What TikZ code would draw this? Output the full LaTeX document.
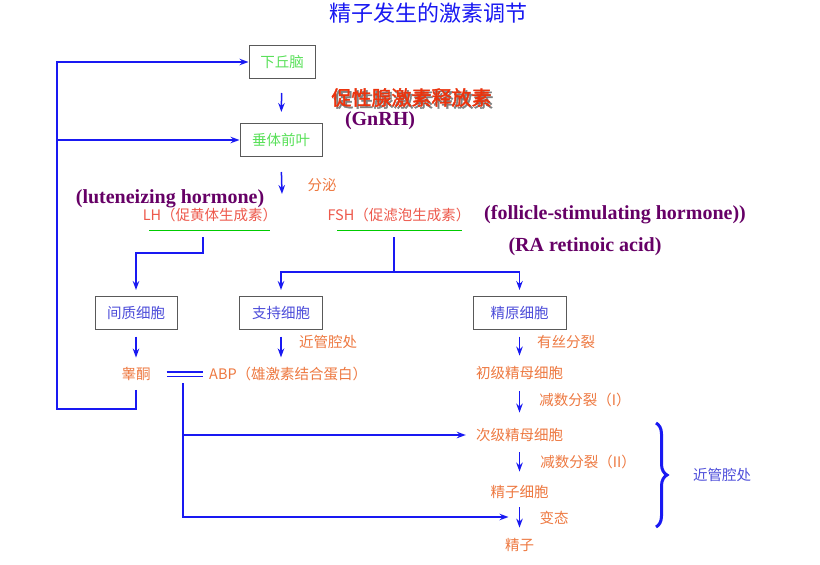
\documentclass[tikz,border=0pt]{standalone}
\usepackage{fontspec}
\setmainfont{Liberation Serif}
\newfontfamily\cjk{Noto Sans CJK SC}[AutoFakeBold=2]
\usetikzlibrary{arrows.meta,decorations.pathreplacing}
\definecolor{lineblue}{rgb}{0.1,0.1,0.95}
\definecolor{boxtext}{rgb}{0.3,0.3,0.85}
\definecolor{organ}{rgb}{0.35,0.88,0.35}
\definecolor{stage}{rgb}{0.93,0.47,0.25}
\definecolor{hormone}{rgb}{0.93,0.35,0.3}
\definecolor{plum}{rgb}{0.4,0.0,0.4}
\definecolor{gnrh}{rgb}{0.92,0.2,0.05}

\begin{document}
\begin{tikzpicture}[x=1pt, y=-1pt, >=Stealth,
    conn/.style={draw=lineblue, line width=1.5pt},
    arr/.style={conn, -{Stealth[length=9pt,width=6.5pt]}},
    cell/.style={draw=black!65, line width=1pt, minimum height=33pt,
      font=\cjk\fontsize{14.5}{16}\selectfont},
    txt/.style={inner sep=0pt, font=\cjk\fontsize{14.5}{16}\selectfont},
    eng/.style={inner sep=0pt, text=plum, font=\bfseries\fontsize{20}{22}\selectfont},
    uline/.style={draw=green!80!black, line width=1pt}]
    \useasboundingbox (0,0) rectangle (820,565);

    % Title
    \node[txt, text=lineblue, font=\cjk\fontsize{22}{24}\selectfont] (title) at (428,13) {精子发生的激素调节};

    % Hypothalamus and pituitary
    \node[cell, text=organ, minimum width=66pt] (hypo) at (282,62) {下丘脑};
    \node[cell, text=organ, minimum width=82pt] (pit) at (281,140) {垂体前叶};
    \draw[arr, shorten <=14pt, shorten >=11pt] (hypo) -- (pit);

    % GnRH label (with shadow)
    \node[txt, text=black!50, font=\cjk\bfseries\fontsize{20}{22}\selectfont] (gnrhshadow) at (413.5,99.5) {促性腺激素释放素};
    \node[txt, text=gnrh, font=\cjk\bfseries\fontsize{20}{22}\selectfont] (gnrh) at (411.5,97.5) {促性腺激素释放素};
    \node[eng] (gnrhabbr) at (380,121) {(GnRH)};

    % Secretion
    \coordinate (secr) at (282,194);
    \draw[arr, shorten <=15pt] (pit.south) -- (secr);
    \node[txt, text=stage] (secrlbl) at (322,185) {分泌};

    % LH and FSH
    \node[eng] (lhname) at (170,199) {(luteneizing hormone)};
    \node[txt, text=hormone] (lh) at (210,215) {LH（促黄体生成素）};
    \node[txt, text=hormone] (fsh) at (399,215) {FSH（促滤泡生成素）};
    \node[eng] (fshname) at (615,215) {(follicle-stimulating hormone))};
    \node[eng] (raname) at (585,247) {(RA retinoic acid)};
    \draw[uline] (149,230) -- (270,230);
    \draw[uline] (337,230) -- (462,230);
    \coordinate (lhbar) at (203,230);
    \coordinate (fshbar) at (394,230);
    \coordinate (fshsplit) at (394,272);

    % Target cells
    \node[cell, text=boxtext, minimum width=82pt] (leydig) at (136,313) {间质细胞};
    \node[cell, text=boxtext, minimum width=83pt] (sertoli) at (281,313) {支持细胞};
    \node[cell, text=boxtext, minimum width=93pt] (spgonia) at (519.5,313) {精原细胞};
    \draw[arr, shorten <=7pt, shorten >=6pt] (lhbar) -- ++(0,23) -| (leydig.north);
    \draw[conn, shorten <=7pt] (fshbar) -- (fshsplit);
    \draw[arr, shorten >=6pt] (fshsplit) -| (sertoli.north);
    \draw[arr, shorten >=6pt] (fshsplit) -| (spgonia.north);

    % Products
    \node[txt, text=stage] (testo) at (136,374) {睾酮};
    \node[txt, text=stage, anchor=west] (abp) at (209,374) {ABP（雄激素结合蛋白）};
    \node[txt, text=stage] (sertolilbl) at (328,342) {近管腔处};
    \draw[arr, shorten <=6.5pt, shorten >=9.5pt] (leydig) -- (testo);
    \draw[arr, shorten <=6.5pt, shorten >=9.5pt] (sertoli.south) -- (sertoli.south |- abp.north);
    \draw[conn, double=white, double distance=3pt, line width=1.3pt, shorten <=16pt, shorten >=6pt] (testo) -- (abp);

    % Spermatogenesis
    \node[txt, text=stage] (prim) at (519.5,373) {初级精母细胞};
    \node[txt, text=stage] (sec) at (519.5,435) {次级精母细胞};
    \node[txt, text=stage] (spd) at (519.5,492) {精子细胞};
    \node[txt, text=stage] (sperm) at (519.5,545) {精子};
    \node[txt, text=stage] (mitosis) at (566,342) {有丝分裂};
    \node[txt, text=stage] (meio1) at (585,400) {减数分裂（I）};
    \node[txt, text=stage] (meio2) at (588,462) {减数分裂（II）};
    \node[txt, text=stage] (metamlbl) at (554,518) {变态};
    \draw[arr, shorten <=6.5pt, shorten >=10.5pt] (spgonia) -- (prim);
    \draw[arr, shorten <=11.5pt, shorten >=15.5pt] (prim) -- (sec);
    \draw[arr, shorten <=10.5pt, shorten >=13.5pt] (sec) -- (spd);
    \draw[arr, shorten <=8.5pt, shorten >=10.5pt] (spd) -- (sperm);

    % Feedback of testosterone
    \coordinate (fbbot) at (57,409);
    \draw[arr, shorten <=9pt] (testo.south) |- (fbbot) |- (hypo.west);
    \draw[arr] (fbbot |- pit.west) -- (pit.west);

    % ABP to the lumen
    \coordinate (abpdrop) at (183,383);
    \coordinate (metam) at (519.5,517);
    \draw[arr, shorten >=10pt] (abpdrop) |- (sec.west);
    \draw[arr, shorten >=11pt] (abpdrop) |- (metam);

    % Brace
    \draw[conn, line width=3pt, decorate, decoration={brace, amplitude=11pt}] (656,423) -- (656,527);
    \node[txt, text=boxtext] (lumen) at (722,475) {近管腔处};
\end{tikzpicture}
\end{document}
